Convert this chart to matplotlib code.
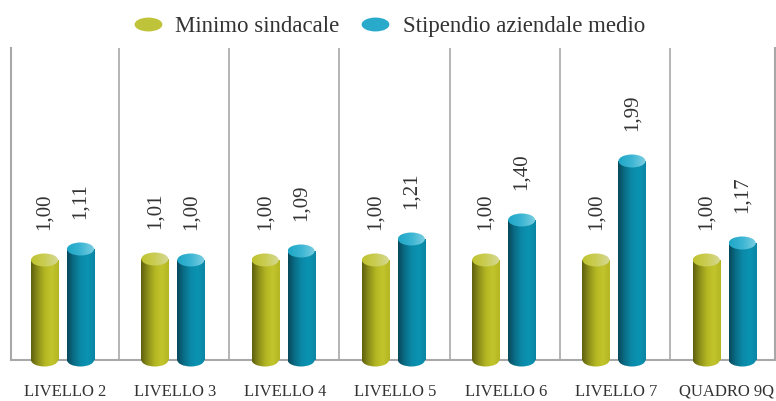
import matplotlib.pyplot as plt
import numpy as np
from matplotlib.patches import Ellipse
from matplotlib.colors import LinearSegmentedColormap
from matplotlib.path import Path
from matplotlib.transforms import Affine2D
from matplotlib.lines import Line2D

plt.rcParams['font.family'] = ['Liberation Serif', 'DejaVu Serif']

categories = ["LIVELLO 2", "LIVELLO 3", "LIVELLO 4", "LIVELLO 5",
              "LIVELLO 6", "LIVELLO 7", "QUADRO 9Q"]
minimo = [1.00, 1.01, 1.00, 1.00, 1.00, 1.00, 1.00]
stipendio = [1.11, 1.00, 1.09, 1.21, 1.40, 1.99, 1.17]
series_names = ["Minimo sindacale", "Stipendio aziendale medio"]

# body gradients (left -> right) and top cap gradients
body_cmaps = [
    LinearSegmentedColormap.from_list("g", ["#5e600f", "#8e901a", "#b4b722", "#c2c52c", "#b3b523"]),
    LinearSegmentedColormap.from_list("b", ["#07485b", "#0a6f88", "#0a8aa8", "#0b93b2", "#0a86a3"]),
]
cap_cmaps = [
    LinearSegmentedColormap.from_list("gc", ["#bfc32e", "#cacd55", "#d6d99a"]),
    LinearSegmentedColormap.from_list("bc", ["#1ea6c6", "#3db6d4", "#7fd0e2"]),
]
legend_colors = ["#bfc33a", "#29aacb"]
text_color = "#333333"
line_color = "#a8a8a8"

fig = plt.figure(figsize=(7.76, 4.01), dpi=100)
ax = fig.add_axes([11 / 776, 41 / 401, 764 / 776, 312 / 401])
ax.set_xlim(-0.467, 6.46)
ax.set_ylim(0, 3.12)

x = np.arange(len(categories))
width = 0.245
offsets = [-0.163, 0.163]
cap_h = 0.13
grad = np.linspace(0, 1, 256).reshape(1, -1)

for s, values in enumerate([minimo, stipendio]):
    bars = ax.bar(x + offsets[s], values, width, color='none', edgecolor='none', zorder=3)
    for bar, v in zip(bars, values):
        x0 = bar.get_x()
        x1 = x0 + bar.get_width()
        xc = (x0 + x1) / 2
        # body
        im = ax.imshow(grad, cmap=body_cmaps[s], extent=[x0, x1, 0, v],
                       aspect='auto', zorder=3, interpolation='bilinear')
        im.set_clip_path(bar)
        # rounded bottom, drawn below the baseline
        bottom = Ellipse((xc, 0), width, cap_h, facecolor='none', edgecolor='none',
                         clip_on=False)
        ax.add_patch(bottom)
        im2 = ax.imshow(grad, cmap=body_cmaps[s], extent=[x0, x1, -cap_h, 0.02],
                        aspect='auto', zorder=3, interpolation='bilinear')
        im2.set_clip_box(fig.bbox)
        im2.set_clip_path(bottom)
        # top cap
        cap = Ellipse((xc, v), width, cap_h, facecolor='none', edgecolor='none', zorder=4)
        ax.add_patch(cap)
        im3 = ax.imshow(grad, cmap=cap_cmaps[s], extent=[x0, x1, v - cap_h, v + cap_h],
                        aspect='auto', zorder=4, interpolation='bilinear')
        im3.set_clip_path(cap)
        # value label
        ax.text(xc, v + 0.30, f"{v:.2f}".replace('.', ','), rotation=90,
                rotation_mode='anchor', ha='left', va='center',
                fontsize=15, color=text_color, zorder=5)

ax.set_xlim(-0.467, 6.46)
ax.set_ylim(0, 3.12)

# category separators
for b in np.arange(len(categories) - 1) + 0.51:
    ax.axvline(b, color=line_color, lw=1.2, zorder=1)

for side in ['left', 'right', 'bottom']:
    ax.spines[side].set_color(line_color)
    ax.spines[side].set_linewidth(1.5)
ax.spines['top'].set_visible(False)
ax.set_yticks([])
ax.set_xticks(x + 0.02)
ax.set_xticklabels(categories, fontsize=12, color=text_color)
ax.tick_params(axis='x', length=0, pad=17)

ell = Path.unit_circle().transformed(Affine2D().scale(1, 0.5))
handles = [Line2D([], [], marker=ell, linestyle='none', markersize=20,
                  markerfacecolor=c, markeredgecolor='none') for c in legend_colors]
fig.legend(handles, series_names, loc='center', bbox_to_anchor=(0.496, 0.933),
           ncol=2, frameon=False, fontsize=16.5, handletextpad=0.2, columnspacing=0.55,
           labelcolor=text_color)

fig.savefig("out.png", dpi=100)
